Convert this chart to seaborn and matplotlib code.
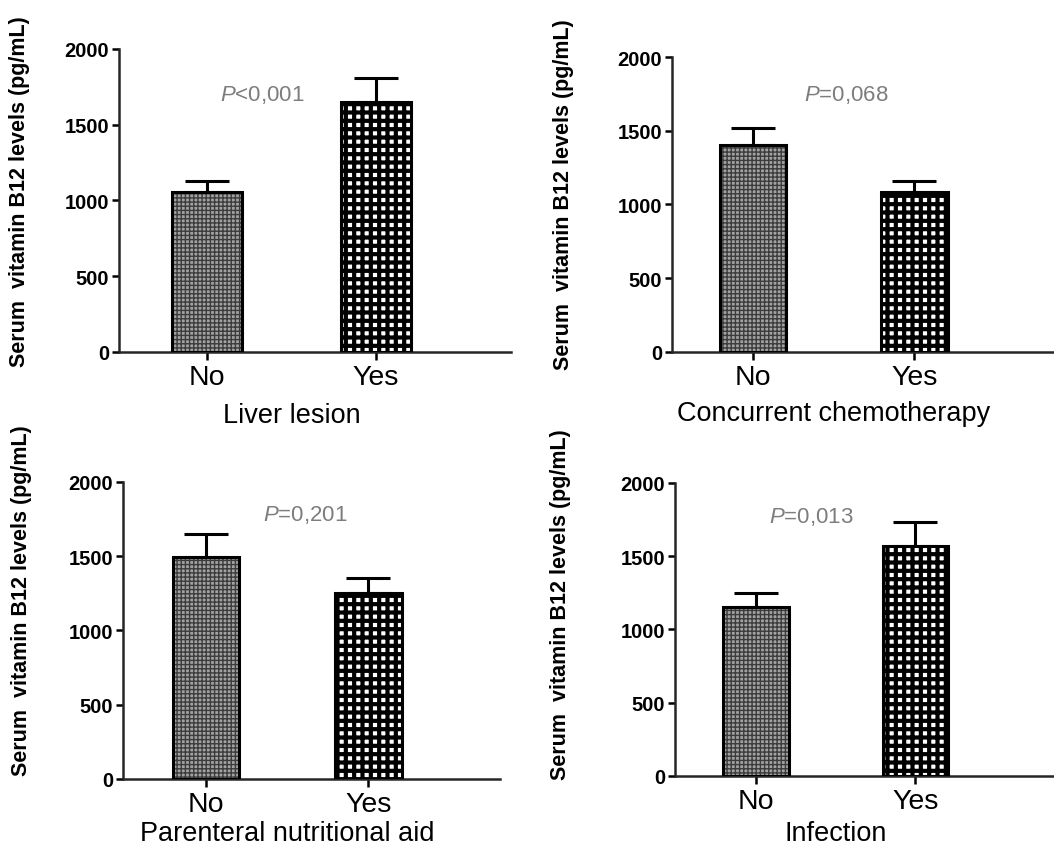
import numpy as np
import pandas as pd
import matplotlib
matplotlib.use("Agg")
import matplotlib.pyplot as plt
import seaborn as sns
from matplotlib.patches import Rectangle

# ---- data -------------------------------------------------------------
groups = ["No", "Yes"]
factors = ["Liver lesion", "Concurrent chemotherapy",
           "Parenteral nutritional aid", "Infection"]

liver_mean = [1056, 1650]
liver_sem = [73, 158]
chemo_mean = [1403, 1085]
chemo_sem = [116, 74]
parenteral_mean = [1495, 1253]
parenteral_sem = [155, 101]
infection_mean = [1154, 1570]
infection_sem = [95, 164]

p_values = ["<0,001", "=0,068", "=0,201", "=0,013"]
y_ticks = [0, 500, 1000, 1500, 2000]
y_title = "Serum  vitamin B12 levels (pg/mL)"

means = [liver_mean, chemo_mean, parenteral_mean, infection_mean]
sems = [liver_sem, chemo_sem, parenteral_sem, infection_sem]

# ---- layout / style ---------------------------------------------------
axes_rects = [
    [0.1129, 0.5862, 0.3720, 0.3552],
    [0.6376, 0.5862, 0.3680, 0.3458],
    [0.1167, 0.0856, 0.3577, 0.3482],
    [0.6401, 0.0891, 0.3644, 0.3435],
]
x_limits = [(-0.52, 1.80), (-0.50, 1.90), (-0.51, 1.81), (-0.51, 1.90)]
p_pos = [(0.33, 1703), (0.58, 1749), (0.61, 1785), (0.345, 1775)]
ylabel_pos = [(-0.255, 0.531), (-0.281, 0.536), (-0.268, 0.603), (-0.296, 0.587)]
xlabel_pad = [8.5, 7.0, 2.0, 4.0]

bar_face = {"No": "#a2a2a2", "Yes": "white"}
hatch_ink = {"No": "#3c3c3c", "Yes": "black"}
hatch_pat = {"No": "++++", "Yes": "++"}
hatch_lw = {"No": 1.0, "Yes": 3.0}

sns.set_theme(style="ticks")
plt.rcParams["font.family"] = ["Liberation Sans", "DejaVu Sans"]
plt.rcParams.update({
    "mathtext.fontset": "custom",
    "mathtext.it": "Liberation Sans:italic",
    "mathtext.rm": "Liberation Sans",
    "axes.linewidth": 1.8,
    "text.color": "black",
    "axes.labelcolor": "black",
    "xtick.color": "black",
    "ytick.color": "black",
})

fig = plt.figure(figsize=(10.54, 8.53), dpi=100)
fig.patch.set_facecolor("white")

for i, factor in enumerate(factors):
    ax = fig.add_axes(axes_rects[i])
    df = pd.DataFrame({"group": groups, "value": means[i]})
    sns.barplot(data=df, x="group", y="value", hue="group", order=groups,
                hue_order=groups, palette=bar_face, width=0.41,
                errorbar=None, legend=False, saturation=1, ax=ax)

    # patterned fills, then a solid black outline on top of each bar
    for patch, grp in zip(ax.patches, groups):
        patch.set_hatch(hatch_pat[grp])
        patch.set_edgecolor(hatch_ink[grp])
        patch.set_linewidth(0)
        patch.set_zorder(2)
        if hasattr(patch, "set_hatch_linewidth"):
            patch.set_hatch_linewidth(hatch_lw[grp])
        ax.add_patch(Rectangle(patch.get_xy(), patch.get_width(),
                               patch.get_height(), fill=False,
                               edgecolor="black", linewidth=2.2, zorder=3))

    # upper-only SEM bars
    xpos = np.arange(len(groups))
    ax.errorbar(xpos, means[i], yerr=[np.zeros(len(groups)), sems[i]],
                fmt="none", ecolor="black", elinewidth=2.2, capsize=15.5,
                capthick=2.2, zorder=1)

    x0, x1 = x_limits[i]
    ax.set_xlim(x0, x1)
    ax.set_ylim(0, 2000)
    ax.set_yticks(y_ticks)
    ax.set_yticklabels([str(t) for t in y_ticks], fontweight="bold")
    ax.tick_params(axis="y", length=5, width=1.8, labelsize=14.5, pad=2)
    ax.tick_params(axis="x", length=6, width=1.8, labelsize=20.5, pad=3)

    # axis title centred between the two bars
    ax.set_xlabel(factor, fontsize=19.5, labelpad=xlabel_pad[i])
    ax.xaxis.label.set_x((0.5 - x0) / (x1 - x0))
    ax.set_ylabel(y_title, fontsize=15.5, fontweight="bold", va="center")
    ax.yaxis.set_label_coords(*ylabel_pos[i])

    sns.despine(ax=ax)
    for side in ("left", "bottom"):
        ax.spines[side].set_linewidth(1.8)

    ax.text(p_pos[i][0], p_pos[i][1], "$P$" + p_values[i], ha="center",
            va="center", color="#7d7d7d", fontsize=16)

fig.savefig("out.png", dpi=100, facecolor="white")
